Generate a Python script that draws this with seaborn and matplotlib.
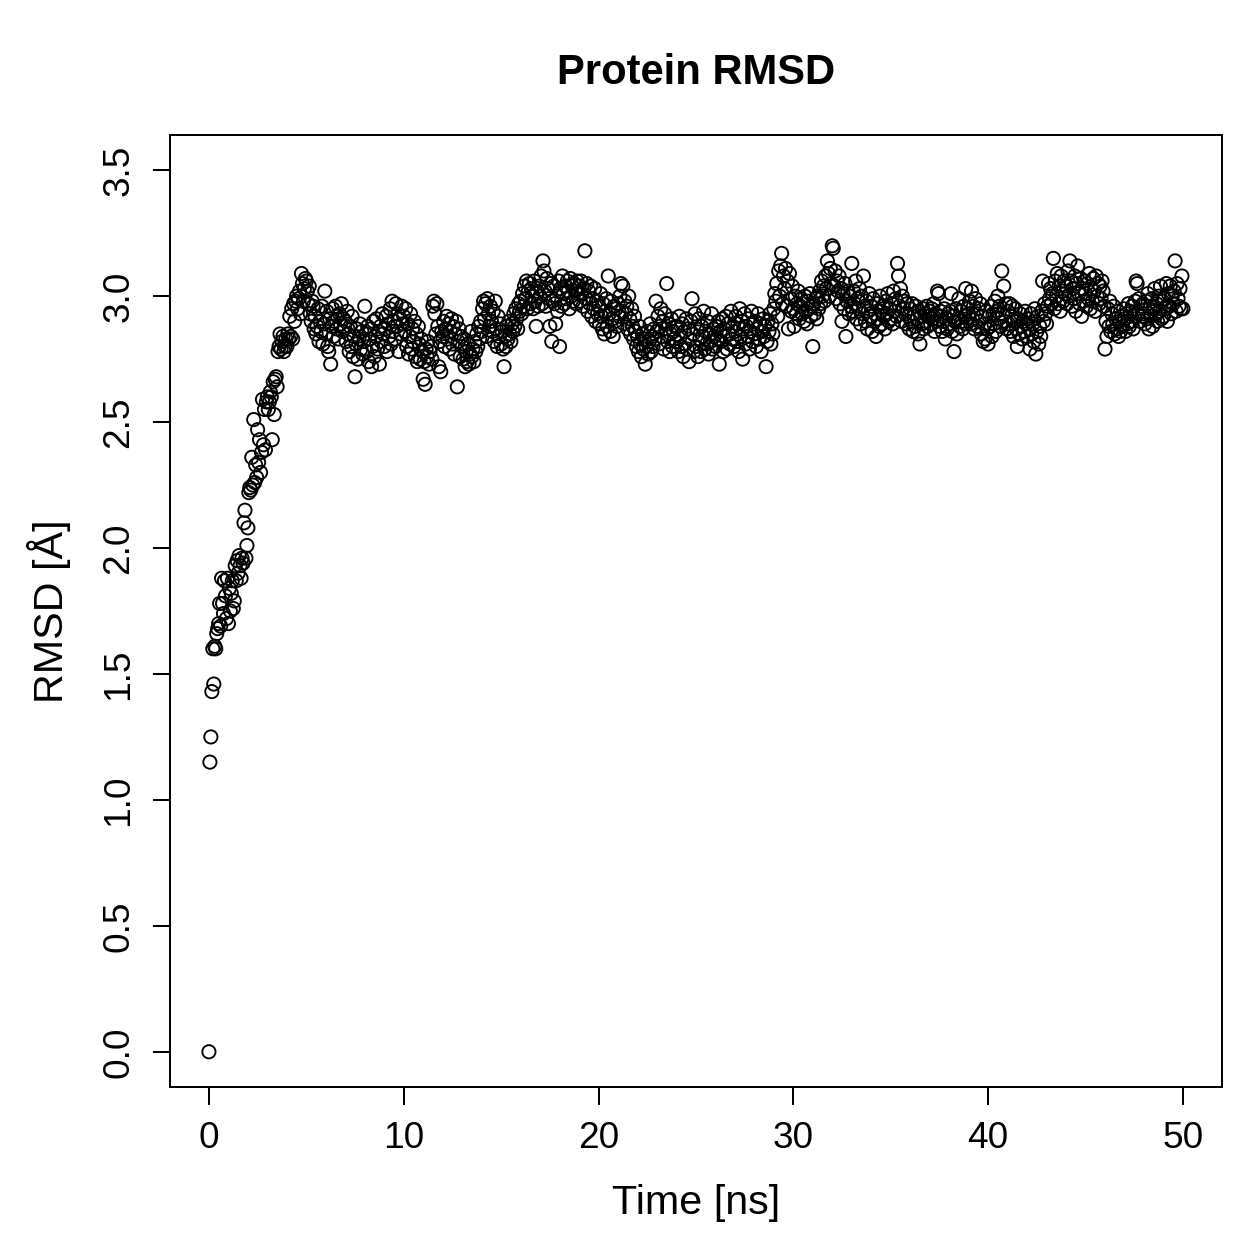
import numpy as np
import pandas as pd
import matplotlib
matplotlib.use("Agg")
import matplotlib.pyplot as plt
import seaborn as sns

# Trajectory frames are written every 0.05 ns
dt_ns = 0.05

# RMSD per frame in Angstrom, one row per ns (20 frames)
rmsd = [
    0.00, 1.15, 1.25, 1.43, 1.60, 1.46, 1.61, 1.60, 1.66, 1.68, 1.70, 1.78, 1.69, 1.88, 1.78, 1.74, 1.87, 1.81, 1.72, 1.88,
    1.70, 1.84, 1.75, 1.82, 1.87, 1.76, 1.79, 1.93, 1.87, 1.95, 1.90, 1.97, 1.93, 1.88, 1.96, 1.94, 2.10, 2.15, 1.96, 2.01,
    2.08, 2.22, 2.24, 2.23, 2.36, 2.25, 2.51, 2.26, 2.33, 2.28, 2.47, 2.34, 2.43, 2.30, 2.38, 2.59, 2.41, 2.55, 2.39, 2.58,
    2.60, 2.55, 2.58, 2.62, 2.60, 2.43, 2.66, 2.53, 2.67, 2.68, 2.64, 2.78, 2.80, 2.85, 2.79, 2.82, 2.84, 2.78, 2.80, 2.83,
    2.80, 2.85, 2.83, 2.92, 2.84, 2.95, 2.83, 2.97, 2.90, 2.98, 3.00, 2.95, 2.99, 3.02, 2.93, 3.09, 3.05, 2.98, 3.03, 3.07,
    3.06, 3.02, 2.97, 3.04, 2.93, 2.90, 2.98, 2.96, 2.87, 2.92, 2.85, 2.88, 2.95, 2.82, 2.90, 2.86, 2.96, 2.81, 2.89, 3.02,
    2.85, 2.94, 2.80, 2.78, 2.91, 2.73, 2.88, 2.95, 2.84, 2.90, 2.96, 2.87, 2.92, 2.83, 2.93, 2.89, 2.97, 2.86, 2.91, 2.88,
    2.90, 2.82, 2.94, 2.85, 2.78, 2.88, 2.80, 2.92, 2.76, 2.84, 2.68, 2.81, 2.87, 2.75, 2.83, 2.89, 2.79, 2.86, 2.77, 2.82,
    2.96, 2.85, 2.78, 2.88, 2.74, 2.83, 2.87, 2.72, 2.80, 2.90, 2.76, 2.84, 2.91, 2.79, 2.86, 2.73, 2.88, 2.82, 2.93, 2.85,
    2.80, 2.87, 2.92, 2.78, 2.89, 2.84, 2.95, 2.81, 2.98, 2.86, 2.90, 2.83, 2.97, 2.88, 2.93, 2.78, 2.91, 2.85, 2.96, 2.89,
    2.92, 2.86, 2.95, 2.80, 2.89, 2.77, 2.84, 2.93, 2.79, 2.87, 2.82, 2.90, 2.76, 2.85, 2.74, 2.88, 2.81, 2.75, 2.83, 2.78,
    2.67, 2.74, 2.65, 2.79, 2.76, 2.82, 2.73, 2.78, 2.80, 2.75, 2.96, 2.98, 2.93, 2.85, 2.97, 2.88, 2.72, 2.82, 2.70, 2.86,
    2.84, 2.90, 2.80, 2.87, 2.92, 2.83, 2.89, 2.79, 2.86, 2.91, 2.81, 2.88, 2.77, 2.85, 2.90, 2.64, 2.82, 2.87, 2.76, 2.84,
    2.80, 2.75, 2.83, 2.72, 2.78, 2.74, 2.81, 2.73, 2.77, 2.86, 2.76, 2.79, 2.74, 2.82, 2.78, 2.85, 2.80, 2.88, 2.83, 2.90,
    2.86, 2.95, 2.98, 2.91, 2.97, 2.84, 2.99, 2.93, 2.88, 2.96, 2.90, 2.86, 2.94, 2.82, 2.98, 2.87, 2.80, 2.92, 2.84, 2.89,
    2.81, 2.86, 2.79, 2.72, 2.84, 2.80, 2.88, 2.83, 2.90, 2.85, 2.82, 2.89, 2.86, 2.93, 2.88, 2.95, 2.91, 2.87, 2.97, 2.94,
    2.98, 2.93, 3.01, 2.96, 3.04, 2.99, 3.06, 2.95, 3.02, 3.05, 2.97, 3.03, 3.00, 2.95, 3.06, 2.98, 2.88, 3.02, 2.96, 3.04,
    3.00, 3.08, 2.97, 3.14, 3.10, 3.02, 2.96, 3.07, 3.03, 2.99, 2.88, 3.05, 2.82, 2.98, 3.04, 2.97, 2.89, 3.00, 2.94, 3.06,
    2.80, 3.03, 2.96, 3.08, 3.01, 2.97, 3.04, 2.99, 3.06, 3.02, 2.95, 3.07, 3.00, 3.04, 2.98, 3.05, 3.02, 2.97, 3.06, 3.01,
    3.04, 2.98, 3.06, 3.01, 2.96, 3.03, 3.18, 2.99, 3.05, 2.94, 3.02, 2.97, 3.04, 2.92, 2.99, 2.95, 3.03, 2.90, 2.98, 2.93,
    2.96, 2.89, 3.01, 2.92, 2.87, 2.97, 2.85, 2.94, 2.99, 2.88, 3.08, 2.93, 2.86, 2.98, 2.91, 2.84, 2.96, 2.90, 2.95, 2.88,
    2.97, 2.92, 3.00, 3.05, 2.94, 3.04, 2.89, 2.98, 2.93, 2.96, 2.87, 3.00, 2.91, 2.85, 2.95, 2.88, 2.83, 2.92, 2.86, 2.80,
    2.84, 2.78, 2.88, 2.81, 2.76, 2.85, 2.79, 2.83, 2.73, 2.80, 2.86, 2.77, 2.82, 2.89, 2.78, 2.84, 2.80, 2.87, 2.83, 2.98,
    2.86, 2.92, 2.81, 2.88, 2.95, 2.84, 2.90, 2.79, 2.93, 2.87, 3.05, 2.82, 2.89, 2.78, 2.85, 2.91, 2.80, 2.86, 2.83, 2.88,
    2.82, 2.88, 2.78, 2.92, 2.84, 2.80, 2.89, 2.76, 2.86, 2.81, 2.91, 2.79, 2.87, 2.74, 2.83, 2.90, 2.99, 2.85, 2.78, 2.93,
    2.80, 2.87, 2.76, 2.91, 2.83, 2.78, 2.88, 2.84, 2.94, 2.79, 2.86, 2.81, 2.90, 2.77, 2.85, 2.82, 2.93, 2.79, 2.87, 2.84,
    2.80, 2.88, 2.83, 2.90, 2.73, 2.86, 2.82, 2.91, 2.78, 2.87, 2.84, 2.92, 2.79, 2.89, 2.85, 2.81, 2.94, 2.83, 2.88, 2.80,
    2.86, 2.92, 2.82, 2.89, 2.78, 2.95, 2.84, 2.90, 2.75, 2.87, 2.93, 2.81, 2.88, 2.84, 2.91, 2.79, 2.86, 2.94, 2.82, 2.89,
    2.85, 2.90, 2.80, 2.87, 2.93, 2.83, 2.89, 2.78, 2.86, 2.91, 2.84, 2.88, 2.72, 2.82, 2.90, 2.86, 2.93, 2.81, 2.89, 2.85,
    2.95, 3.01, 2.98, 3.05, 2.92, 3.10, 3.00, 3.12, 3.17, 2.97, 3.08, 3.03, 3.11, 2.96, 3.06, 2.87, 3.09, 2.99, 2.94, 3.04,
    2.95, 2.88, 3.00, 2.93, 2.97, 3.02, 2.91, 2.96, 2.99, 2.93, 2.97, 2.90, 3.00, 2.94, 2.89, 2.98, 2.95, 3.01, 2.92, 2.96,
    2.80, 2.97, 2.93, 2.99, 2.91, 3.00, 2.95, 3.02, 2.97, 3.06, 3.00, 3.04, 2.98, 3.08, 3.03, 3.14, 3.09, 3.00, 3.11, 3.05,
    3.20, 3.19, 3.04, 3.10, 2.99, 3.06, 3.02, 3.08, 2.97, 3.03, 2.90, 3.01, 2.95, 3.05, 2.84, 2.98, 3.02, 2.93, 3.00, 2.96,
    3.13, 2.94, 3.02, 2.97, 3.06, 2.91, 2.99, 2.95, 3.03, 2.89, 3.00, 2.93, 3.08, 2.96, 2.90, 2.98, 2.87, 2.94, 3.01, 2.92,
    2.96, 2.86, 2.99, 2.90, 2.93, 2.84, 2.97, 2.91, 2.88, 3.00, 2.94, 2.89, 2.96, 2.92, 2.87, 2.98, 2.93, 3.01, 2.90, 2.95,
    2.91, 2.97, 2.89, 3.02, 2.94, 2.99, 2.92, 3.13, 3.08, 2.96, 3.03, 2.90, 3.00, 2.95, 2.98, 2.93, 2.89, 2.97, 2.92, 2.87,
    2.95, 2.90, 2.97, 2.86, 2.93, 2.88, 2.96, 2.91, 2.85, 2.94, 2.81, 2.92, 2.89, 2.95, 2.87, 2.93, 2.90, 2.96, 2.88, 2.92,
    2.94, 2.89, 2.95, 2.91, 2.97, 2.86, 2.93, 2.90, 3.02, 3.01, 2.88, 2.94, 2.92, 2.86, 2.90, 2.95, 2.83, 2.91, 2.87, 2.93,
    2.89, 2.94, 3.01, 2.86, 2.92, 2.78, 2.90, 2.95, 2.85, 2.91, 2.99, 2.88, 2.94, 2.90, 2.87, 2.96, 2.92, 3.03, 2.89, 2.95,
    2.93, 2.98, 2.89, 3.02, 2.91, 2.96, 2.87, 2.99, 2.93, 2.88, 2.95, 2.90, 2.97, 2.85, 2.92, 2.82, 2.89, 2.83, 2.94, 2.87,
    2.81, 2.92, 2.88, 2.96, 2.84, 2.93, 2.89, 2.98, 2.86, 2.94, 3.00, 2.91, 2.96, 2.88, 3.10, 2.93, 3.04, 2.90, 2.97, 2.87,
    2.94, 2.89, 2.97, 2.86, 2.92, 2.96, 2.84, 2.90, 2.95, 2.87, 2.80, 2.91, 2.85, 2.93, 2.88, 2.83, 2.90, 2.86, 2.94, 2.89,
    2.84, 2.91, 2.87, 2.79, 2.93, 2.85, 2.89, 2.82, 2.95, 2.77, 2.86, 2.92, 2.81, 2.88, 2.84, 2.94, 3.06, 2.90, 2.97, 2.93,
    2.89, 2.96, 3.05, 2.99, 3.03, 2.97, 3.01, 3.15, 2.95, 3.06, 3.00, 3.09, 2.97, 3.04, 2.94, 3.08, 3.02, 2.98, 3.06, 3.01,
    3.04, 2.97, 3.10, 3.00, 3.14, 3.06, 2.96, 3.03, 2.99, 3.08, 2.94, 3.05, 3.12, 3.01, 2.97, 3.07, 2.92, 3.03, 2.98, 3.06,
    3.01, 2.96, 3.05, 2.99, 3.09, 2.95, 3.03, 2.98, 3.07, 3.02, 2.94, 3.08, 3.00, 3.05, 2.97, 3.04, 2.99, 3.06, 3.02, 2.96,
    2.79, 2.90, 2.84, 2.95, 2.88, 2.98, 2.86, 2.93, 2.89, 2.96, 2.85, 2.91, 2.87, 2.94, 2.84, 2.90, 2.86, 2.92, 2.88, 2.95,
    2.91, 2.86, 2.93, 2.89, 2.97, 2.88, 2.94, 2.90, 2.96, 2.87, 2.92, 2.98, 3.06, 3.05, 2.93, 2.99, 2.90, 2.96, 2.92, 2.97,
    2.93, 2.89, 2.98, 2.91, 3.01, 2.87, 2.95, 2.92, 2.99, 2.88, 2.96, 3.03, 2.93, 2.97, 2.90, 3.00, 2.94, 3.04, 2.91, 2.98,
    2.92, 2.99, 2.95, 3.05, 2.90, 3.01, 2.96, 3.04, 2.93, 3.00, 2.97, 3.02, 3.14, 2.94, 3.05, 2.99, 2.96, 3.03, 2.95, 3.08,
    2.95,
]

x_ticks = [0, 10, 20, 30, 40, 50]
y_ticks = [0.0, 0.5, 1.0, 1.5, 2.0, 2.5, 3.0, 3.5]

df = pd.DataFrame({"time": np.arange(len(rmsd)) * dt_ns, "rmsd": rmsd})

sns.set_style("ticks")
plt.rcParams["font.family"] = ["Liberation Sans", "DejaVu Sans"]
plt.rcParams["text.color"] = "black"
plt.rcParams["axes.labelcolor"] = "black"

fig = plt.figure(figsize=(1259 / 180, 1259 / 180), dpi=180)
ax = fig.add_axes([0.135, 0.1366, 0.8355, 0.7562])

sns.scatterplot(data=df, x="time", y="rmsd", ax=ax, marker="o", s=28,
                facecolor="none", edgecolor="black", linewidth=0.75)

ax.set_xlim(-2, 52)
ax.set_ylim(-0.14, 3.64)
ax.set_xticks(x_ticks)
ax.set_yticks(y_ticks)
ax.set_yticklabels([f"{v:.1f}" for v in y_ticks], rotation=90, va="center")
ax.tick_params(axis="both", direction="out", length=7, width=0.8,
               colors="black", labelsize=14.8, pad=6.5)
for s in ax.spines.values():
    s.set_linewidth(0.8)
    s.set_color("black")

ax.set_title("Protein RMSD", fontsize=16.7, fontweight="bold", pad=20.5,
             color="black")
ax.set_xlabel("Time [ns]", fontsize=16.5, color="black")
ax.set_ylabel("RMSD [Å]", fontsize=16.5, color="black")
ax.xaxis.set_label_coords(0.5, -0.102)
ax.yaxis.set_label_coords(-0.094, 0.5)

fig.savefig("out.png", dpi=180)
